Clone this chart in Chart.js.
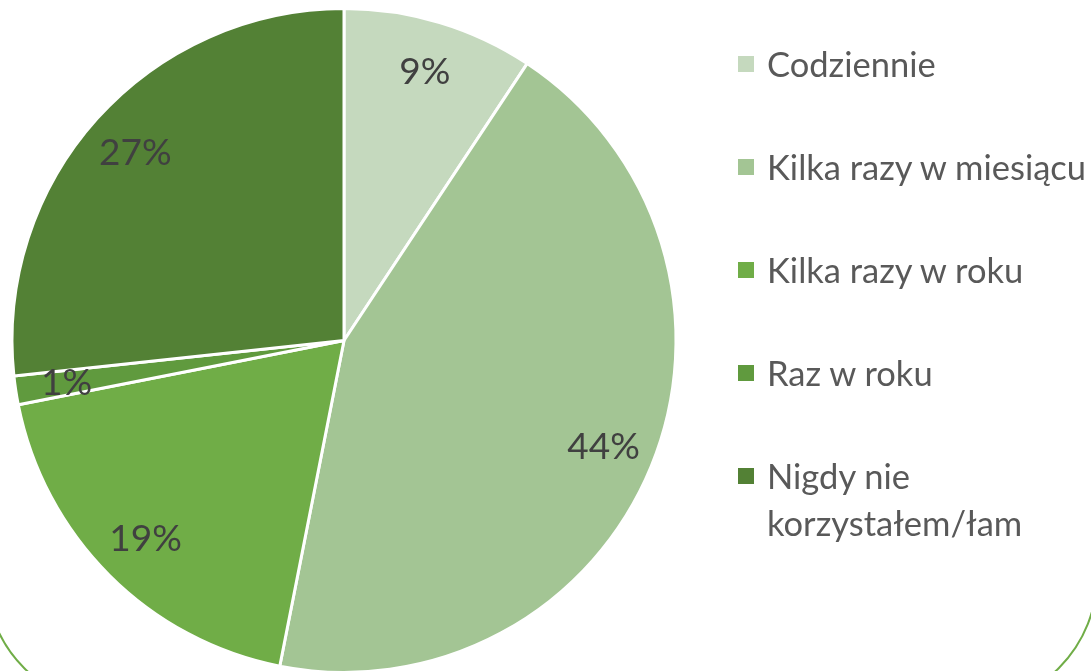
<!DOCTYPE html>
<html>
<head>
<meta charset="utf-8">
<script src="https://cdn.jsdelivr.net/npm/chart.js@4"></script>
<style>
  html, body { margin: 0; padding: 0; background: #fff; overflow: hidden; }
  #wrap { position: relative; width: 1091px; height: 671px; overflow: hidden; }
  #frame { position: absolute; left: -15px; top: -300px; width: 1113px; height: 1007px;
           border: 2.5px solid #70AD47; border-radius: 131px; box-sizing: border-box; }
  #box { position: absolute; left: 0; top: 0; width: 1091px; height: 700px; }
  #legend { position: absolute; left: 738px; top: 40px; font-family: Lato, sans-serif;
            font-size: 34.5px; color: #595959; }
  .item { display: flex; align-items: flex-start; margin-bottom: 56px; line-height: 47px; }
  .sw { width: 16px; height: 16px; margin-top: 16px; margin-right: 13px; flex: none; }
</style>
</head>
<body>
<div id="wrap">
  <div id="frame"></div>
  <div id="box"><canvas id="c" width="1091" height="700"></canvas></div>
  <div id="legend"></div>
</div>
<script>
// kategorie i udziały (%)
const categories = ["Codziennie", "Kilka razy w miesiącu", "Kilka razy w roku", "Raz w roku", "Nigdy nie korzystałem/łam"];
const legendLines = [["Codziennie"], ["Kilka razy w miesiącu"], ["Kilka razy w roku"], ["Raz w roku"], ["Nigdy nie", "korzystałem/łam"]];
const shares = [9.3, 43.8, 18.8, 1.4, 26.7];
const colors = ["#C5D9BE", "#A3C594", "#70AD47", "#609A3E", "#538135"];

// legenda w HTML
const leg = document.getElementById("legend");
legendLines.forEach((lines, i) => {
  const it = document.createElement("div");
  it.className = "item";
  const sw = document.createElement("div");
  sw.className = "sw";
  sw.style.background = colors[i];
  const tx = document.createElement("div");
  tx.innerHTML = lines.join("<br>");
  it.appendChild(sw);
  it.appendChild(tx);
  leg.appendChild(it);
});

// etykiety procentowe na wycinkach
const pctLabels = {
  id: "pctLabels",
  afterDatasetsDraw(chart) {
    const ctx = chart.ctx;
    const data = chart.data.datasets[0].data;
    const total = data.reduce((a, b) => a + b, 0);
    ctx.save();
    ctx.font = "37px Lato, sans-serif";
    ctx.fillStyle = "#404040";
    ctx.textAlign = "center";
    ctx.textBaseline = "middle";
    chart.getDatasetMeta(0).data.forEach((arc, i) => {
      const p = arc.getProps(["x", "y", "startAngle", "endAngle", "outerRadius"], true);
      const mid = (p.startAngle + p.endAngle) / 2;
      const r = p.outerRadius * 0.845;
      ctx.fillText(Math.round(data[i] / total * 100) + "%", p.x + Math.cos(mid) * r, p.y + Math.sin(mid) * r);
    });
    ctx.restore();
  }
};

new Chart(document.getElementById("c").getContext("2d"), {
  type: "pie",
  data: {
    labels: categories,
    datasets: [{
      data: shares,
      backgroundColor: colors,
      borderColor: "#ffffff",
      borderWidth: 3
    }]
  },
  options: {
    responsive: false,
    animation: false,
    layout: { padding: { left: 10, top: 7, right: 413, bottom: 26 } },
    plugins: {
      legend: { display: false },
      tooltip: { enabled: false }
    }
  },
  plugins: [pctLabels]
});
</script>
</body>
</html>
